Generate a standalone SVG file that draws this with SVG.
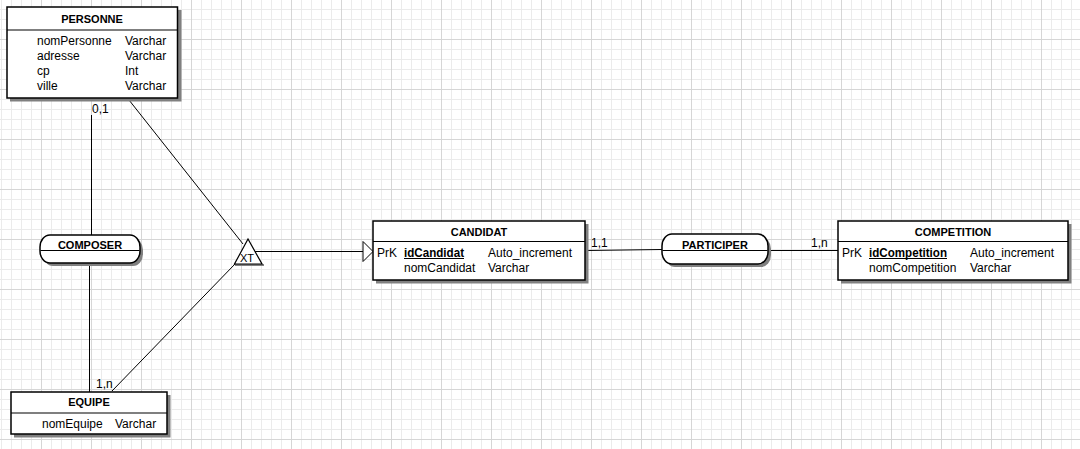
<svg xmlns="http://www.w3.org/2000/svg" width="1080" height="449" viewBox="0 0 1080 449">
<defs>
<pattern id="grid" patternUnits="userSpaceOnUse" x="-9" y="-11" width="50" height="50">
<rect x="10" y="0" width="1" height="50" fill="#ebebeb"/>
<rect x="20" y="0" width="1" height="50" fill="#ebebeb"/>
<rect x="30" y="0" width="1" height="50" fill="#ebebeb"/>
<rect x="40" y="0" width="1" height="50" fill="#ebebeb"/>
<rect x="0" y="10" width="50" height="1" fill="#ebebeb"/>
<rect x="0" y="20" width="50" height="1" fill="#ebebeb"/>
<rect x="0" y="30" width="50" height="1" fill="#ebebeb"/>
<rect x="0" y="40" width="50" height="1" fill="#ebebeb"/>
<rect x="0" y="0" width="1" height="50" fill="#d6d6d6"/>
<rect x="0" y="0" width="50" height="1" fill="#d6d6d6"/>
</pattern>
<marker id="inh" markerUnits="userSpaceOnUse" markerWidth="12" markerHeight="22" refX="11" refY="11" orient="auto">
<path d="M1,1 L11,11 L1,21 Z" fill="#ffffff" stroke="#000000" stroke-width="1"/>
</marker>
</defs>
<style>
.box{fill:#ffffff;stroke:#000000;stroke-width:1.5}
.shadow{fill:#808080}
.sep{stroke:#000000;stroke-width:1.2}
.title{font-family:"Liberation Sans",Arial,sans-serif;font-size:11px;font-weight:bold;fill:#000000;text-anchor:middle}
.txt{font-family:"Liberation Sans",Arial,sans-serif;font-size:12px;fill:#000000}
.key{font-family:"Liberation Sans",Arial,sans-serif;font-size:12px;font-weight:bold;fill:#000000}
.card{font-family:"Liberation Sans",Arial,sans-serif;font-size:12px;fill:#000000}
.conn{stroke:#000000;stroke-width:1;fill:none}
</style>
<rect x="0" y="0" width="1080" height="449" fill="#ffffff"/>
<rect x="0" y="0" width="1080" height="449" fill="url(#grid)"/>

<g id="connectors">
<line class="conn" x1="91.5" y1="115" x2="91.5" y2="235"/>
<line class="conn" x1="89.5" y1="263" x2="89.5" y2="392"/>
<line class="conn" x1="129" y1="100" x2="243" y2="244"/>
<line class="conn" x1="112" y1="391" x2="235" y2="264"/>
<line class="conn" x1="255" y1="251.5" x2="373" y2="251.5" marker-end="url(#inh)"/>
<line class="conn" x1="586" y1="250.5" x2="662" y2="249.5"/>
<line class="conn" x1="768" y1="250.5" x2="838" y2="250.5"/>
<text class="card" x="92" y="113">0,1</text>
<text class="card" x="96" y="388">1,n</text>
<text class="card" x="591" y="247">1,1</text>
<text class="card" x="811" y="247">1,n</text>
</g>

<g id="xt">
<rect x="235" y="264" width="29" height="2" fill="#808080"/>
<path d="M248,239 L234.5,264 L262,264 Z" fill="#ffffff" stroke="#000000" stroke-width="1.2"/>
<text x="247" y="262" font-family="'Liberation Sans',Arial,sans-serif" font-size="11" text-anchor="middle" fill="#000000">XT</text>
</g>

<g id="personne">
<rect class="shadow" x="10" y="10" width="171.5" height="91.5"/>
<rect class="box" x="7" y="7" width="170.5" height="91"/>
<line class="sep" x1="7" y1="30" x2="177.5" y2="30"/>
<text class="title" x="92" y="23">PERSONNE</text>
<text class="txt" x="37" y="45">nomPersonne</text><text class="txt" x="125" y="45">Varchar</text>
<text class="txt" x="37" y="60">adresse</text><text class="txt" x="125" y="60">Varchar</text>
<text class="txt" x="37" y="74.5">cp</text><text class="txt" x="125" y="74.5">Int</text>
<text class="txt" x="37" y="89.5">ville</text><text class="txt" x="125" y="89.5">Varchar</text>
</g>

<g id="composer">
<rect class="shadow" x="43" y="238" width="100" height="28" rx="10" ry="12"/>
<rect class="box" x="40" y="235" width="100" height="28" rx="10" ry="12"/>
<line class="sep" x1="40.5" y1="250.5" x2="139.5" y2="250.5"/>
<text class="title" x="90" y="249">COMPOSER</text>
</g>

<g id="equipe">
<rect class="shadow" x="14" y="395" width="156.5" height="42.5"/>
<rect class="box" x="11" y="392" width="156" height="42"/>
<line class="sep" x1="11" y1="413" x2="167" y2="413"/>
<text class="title" x="89" y="406">EQUIPE</text>
<text class="txt" x="42" y="428">nomEquipe</text><text class="txt" x="115" y="428">Varchar</text>
</g>

<g id="candidat">
<rect class="shadow" x="376" y="224" width="212.5" height="59.5"/>
<rect class="box" x="373" y="221" width="212" height="59"/>
<line class="sep" x1="373" y1="241.5" x2="585" y2="241.5"/>
<text class="title" x="479" y="235.5">CANDIDAT</text>
<text class="txt" x="377" y="256.5">PrK</text>
<text class="key" x="404" y="256.5" textLength="60" lengthAdjust="spacingAndGlyphs">idCandidat</text>
<line x1="404" y1="258.5" x2="464" y2="258.5" stroke="#000000" stroke-width="1"/>
<text class="txt" x="488" y="256.5">Auto_increment</text>
<text class="txt" x="404" y="271.5">nomCandidat</text><text class="txt" x="488" y="271.5">Varchar</text>
</g>

<g id="participer">
<rect class="shadow" x="665" y="237" width="106" height="30" rx="10" ry="12"/>
<rect class="box" x="662" y="234" width="106" height="30" rx="10" ry="12"/>
<line class="sep" x1="662.5" y1="250.5" x2="767.5" y2="250.5"/>
<text class="title" x="715" y="249">PARTICIPER</text>
</g>

<g id="competition">
<rect class="shadow" x="841" y="224" width="230.5" height="59.5"/>
<rect class="box" x="838" y="221" width="230" height="59"/>
<line class="sep" x1="838" y1="241.5" x2="1068" y2="241.5"/>
<text class="title" x="953" y="235.5">COMPETITION</text>
<text class="txt" x="842" y="256.5">PrK</text>
<text class="key" x="869" y="256.5" textLength="78" lengthAdjust="spacingAndGlyphs">idCompetition</text>
<line x1="869" y1="258.5" x2="947" y2="258.5" stroke="#000000" stroke-width="1"/>
<text class="txt" x="970" y="256.5">Auto_increment</text>
<text class="txt" x="869" y="271.5">nomCompetition</text><text class="txt" x="970" y="271.5">Varchar</text>
</g>
</svg>
